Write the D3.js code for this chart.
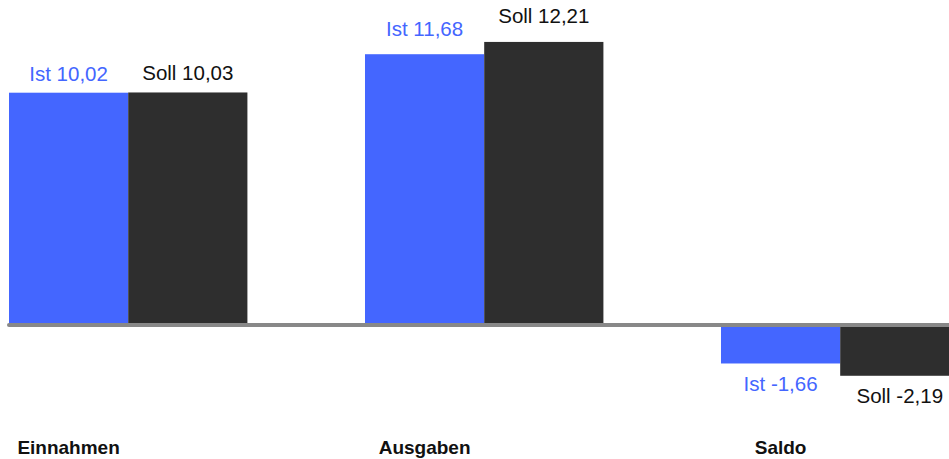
<!DOCTYPE html>
<html>
<head>
<meta charset="utf-8">
<script src="https://cdn.jsdelivr.net/npm/d3@7"></script>
<style>
  html, body { margin: 0; padding: 0; background: #fff; overflow: hidden; }
  svg { display: block; font-family: "Liberation Sans", Arial, sans-serif; }
</style>
</head>
<body>
<svg id="chart" width="949" height="459"></svg>
<script>
const categories = ["Einnahmen", "Ausgaben", "Saldo"];
const series = ["Ist", "Soll"];
const istValues = [10.02, 11.68, -1.66];
const sollValues = [10.03, 12.21, -2.19];
const seriesColors = ["#4466FF", "#2E2E2E"];
const labelColors = ["#4466FF", "#111111"];

const svg = d3.select("#chart");
const W = 949, H = 459;

// style: label distance from bar end per category
const labelGap = {Einnahmen: 12, Ausgaben: 18.5, Saldo: 27.5};

const x0 = d3.scaleBand().domain(categories).range([9, 959.4]).paddingInner(0.3303).paddingOuter(0);
const x1 = d3.scaleBand().domain(series).range([0, x0.bandwidth()]).padding(0);
const y = d3.scaleLinear().domain([0, 10.02]).range([325, 92.7]);

const fmt = v => d3.format(".2f")(v).replace(".", ",").replace("\u2212", "-");

const data = [];
categories.forEach((c, i) => {
  data.push({cat: c, s: "Ist", v: istValues[i], si: 0});
  data.push({cat: c, s: "Soll", v: sollValues[i], si: 1});
});

const g = svg.append("g");

g.selectAll("rect.bar").data(data).enter().append("rect")
  .attr("class", "bar")
  .attr("x", d => x0(d.cat) + x1(d.s))
  .attr("width", x1.bandwidth())
  .attr("y", d => Math.min(y(d.v), y(0)))
  .attr("height", d => Math.abs(y(d.v) - y(0)))
  .attr("fill", d => seriesColors[d.si]);

// baseline
svg.append("line")
  .attr("x1", 9).attr("x2", W + 5)
  .attr("y1", y(0)).attr("y2", y(0))
  .attr("stroke", "#888888").attr("stroke-width", 4)
  .attr("stroke-linecap", "round");

// value labels
g.selectAll("text.val").data(data).enter().append("text")
  .attr("class", "val")
  .attr("x", d => x0(d.cat) + x1(d.s) + x1.bandwidth() / 2)
  .attr("y", d => d.v >= 0 ? y(d.v) - labelGap[d.cat] : y(d.v) + labelGap[d.cat])
  .attr("text-anchor", "middle")
  .attr("font-size", 20.5)
  .attr("fill", d => labelColors[d.si])
  .text(d => d.s + " " + fmt(d.v));

// category labels
svg.selectAll("text.cat").data(categories).enter().append("text")
  .attr("class", "cat")
  .attr("x", d => x0(d) + x1("Ist") + x1.bandwidth() / 2)
  .attr("y", 454)
  .attr("text-anchor", "middle")
  .attr("font-size", 19)
  .attr("font-weight", "bold")
  .attr("fill", "#111")
  .text(d => d);
</script>
</body>
</html>
